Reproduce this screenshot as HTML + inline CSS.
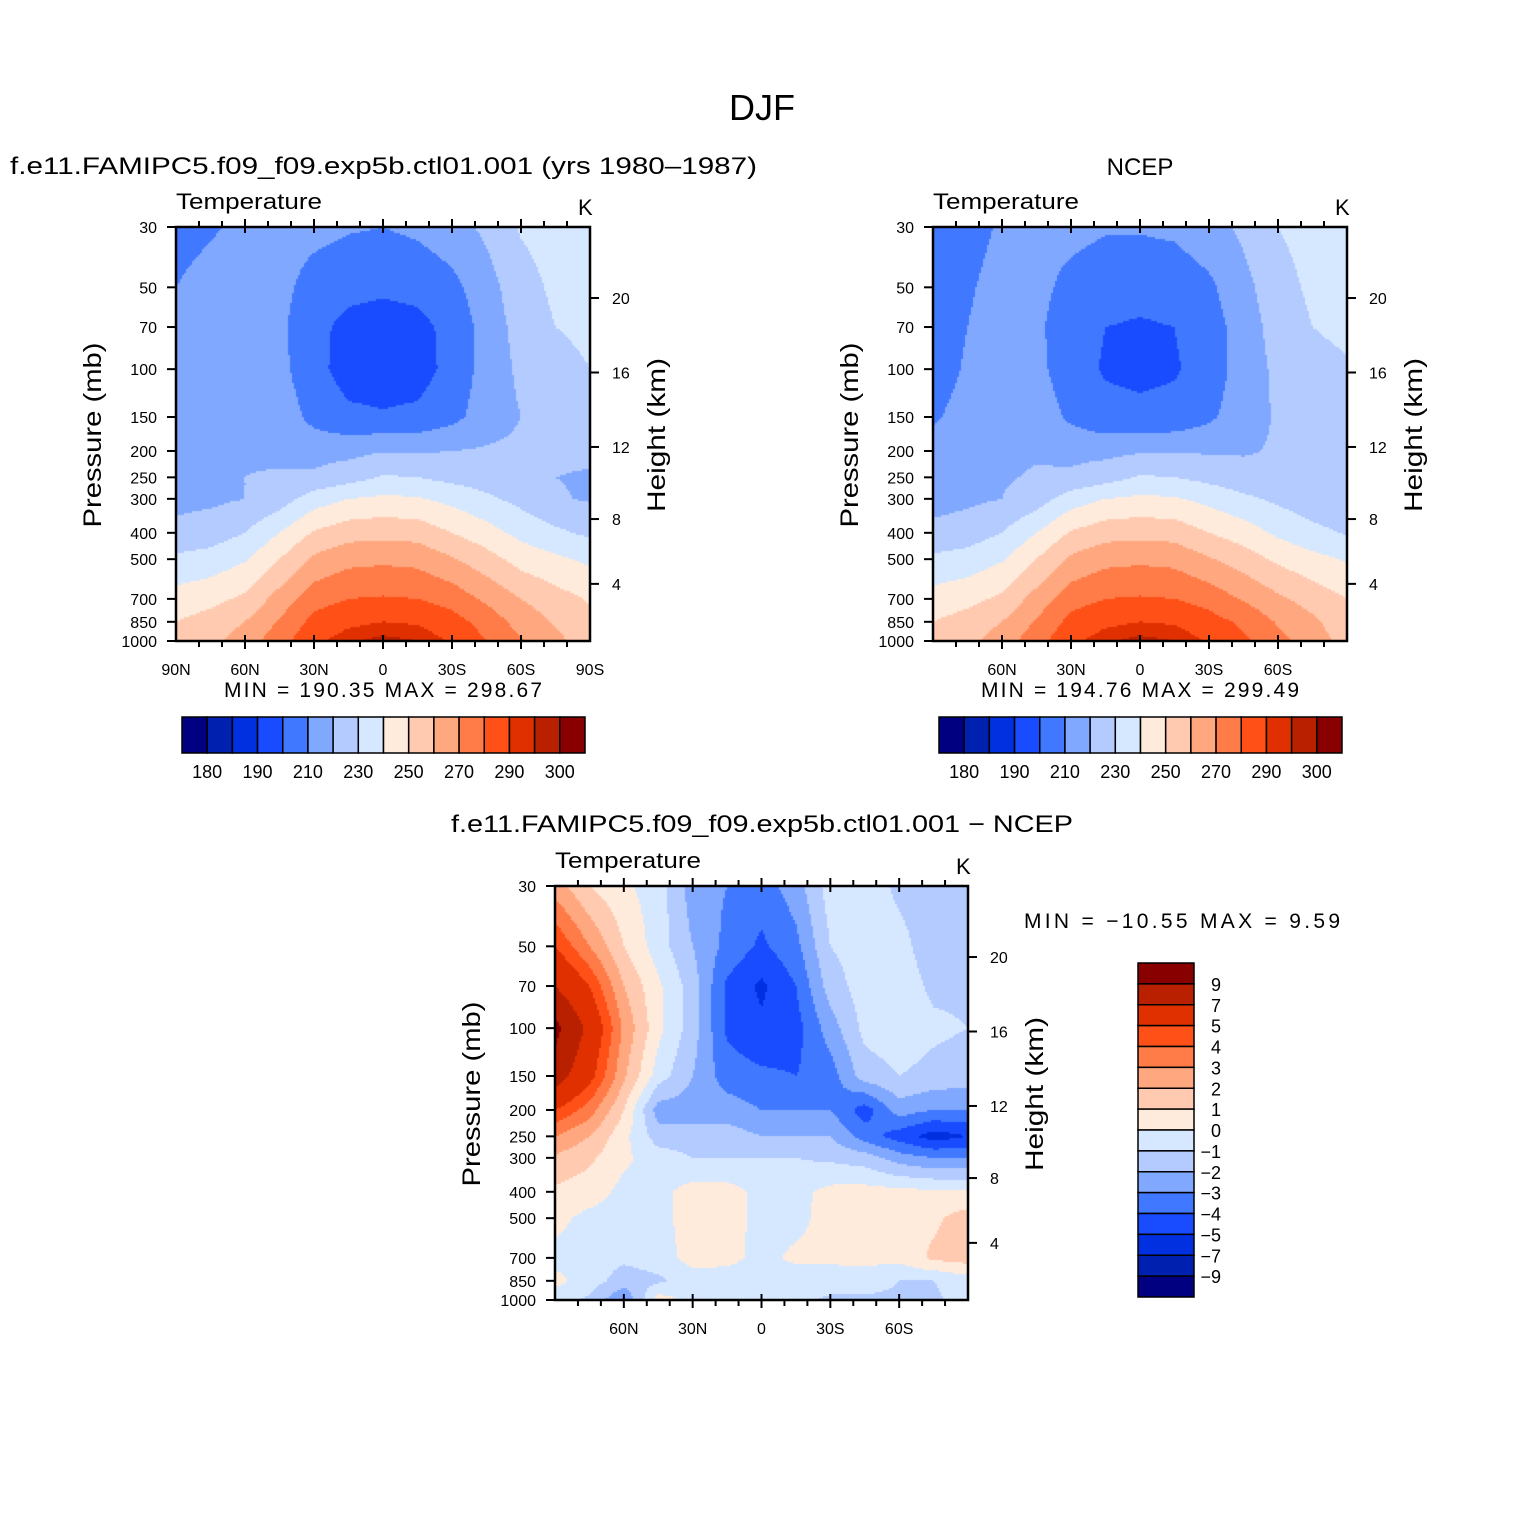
<!DOCTYPE html>
<html><head><meta charset="utf-8">
<style>
html,body{margin:0;padding:0;background:#fff;}
#root{position:relative;width:1524px;height:1524px;overflow:hidden;font-family:"Liberation Sans",sans-serif;}
canvas{position:absolute;}
svg{position:absolute;left:0;top:0;}
text{font-family:"Liberation Sans",sans-serif;fill:#000;}
</style></head>
<body>
<div id="root">
<canvas id="c1" width="414" height="414" style="left:176px;top:227px"></canvas>
<canvas id="c2" width="414" height="414" style="left:933px;top:227px"></canvas>
<canvas id="c3" width="413" height="414" style="left:555px;top:886px"></canvas>
<svg id="s" width="1524" height="1524">
<text x="762" y="120" font-size="36" text-anchor="middle">DJF</text>
<text x="10" y="174" font-size="24" textLength="747" lengthAdjust="spacingAndGlyphs">f.e11.FAMIPC5.f09_f09.exp5b.ctl01.001 (yrs 1980–1987)</text>
<text x="1140" y="175" font-size="24" text-anchor="middle">NCEP</text>
<text x="451" y="832" font-size="24" textLength="622" lengthAdjust="spacingAndGlyphs">f.e11.FAMIPC5.f09_f09.exp5b.ctl01.001 − NCEP</text>
<text x="224" y="697" font-size="21" textLength="318" lengthAdjust="spacing">MIN = 190.35  MAX = 298.67</text>
<text x="981" y="697" font-size="21" textLength="318" lengthAdjust="spacing">MIN = 194.76  MAX = 299.49</text>
<text x="1024" y="928" font-size="21" textLength="316" lengthAdjust="spacing">MIN = −10.55   MAX =    9.59</text>
<g id="axes"></g>
</svg>
</div>
<script>
// ---- data ----
const lats = [90,75,60,45,30,15,0,-15,-30,-45,-60,-75,-90];
const pres = [30,50,70,100,150,200,250,300,400,500,700,850,1000];
const tempLevels = [180,185,190,200,210,220,230,240,250,260,270,280,290,295,300];
const tempLabels = ["180","190","210","230","250","270","290","300"];
const diffLevels = [-9,-7,-5,-4,-3,-2,-1,0,1,2,3,4,5,7,9];
const diffLabels = ["9","7","5","4","3","2","1","0","−1","−2","−3","−4","−5","−7","−9"];
const colors = ["#000080","#0020b0","#0030e0","#1a4cff","#4078ff","#80a8ff","#b3cbff","#d6e8ff","#ffebdc","#ffcab0","#ffa880","#ff7c48","#ff5018","#e03000","#b82000","#880000"];
const modelT = [
[207,209,212,214,213,211,210,212,216,222,231,234,235],
[210,213,215,213,206,203,202,203,207,216,226,232,234],
[212,215,216,212,203,197,195,197,203,214,224,230,232],
[214,216,217,213,203,196,195,196,203,214,222,227,230],
[216,218,219,216,207,202,201,202,207,215,220,224,226],
[217,218,219,218,216,217,219.5,219,220,221,222,222,222],
[217,219,220,221,222,226,231,230,227,225,224,220,219],
[217,218,220,225,235,240,242,241,237,232,227,221,219],
[223,225,230,240,251,256,257,256,250,244,237,232,228],
[232,234,239,250,262,267,268,267,261,254,246,242,238],
[244,247,252,264,276,280,281,280,276,268,260,254,249],
[250,254,260,271,283,288,290,289,284,276,266,259,252],
[252,257,265,276,288,294,297,295,289,280,271,263,254]];
const ncepT = [
[204,207,211,213,213,211,211,212,216,222,230,234,236],
[205,209,213,213,207,204,203,204,208,217,226,232,234],
[206,210,214,212,204,200,199,200,205,215,224,230,232],
[206,211,215,213,204,199,198,199,204,215,222,227,229],
[209,213,217,216,208,203,202,203,208,216,221,224,225],
[213,215,218,219,217,217,219,219,219,219,221,222,222],
[215,217,219,221,222,226,231,230,227,224,222,221,221],
[216,218,220,225,235,240,242,241,237,232,228,224,222],
[223,225,230,240,251,256,257,256,250,245,238,233,229],
[232,234,239,250,262,267,268,267,261,255,248,243,239],
[244,247,252,264,276,280,281,280,276,269,262,256,250],
[250,254,260,271,283,288,290,289,284,278,269,262,254],
[252,257,265,276,288,294,297,295,289,282,273,265,256]];
const diffT = [
[2.5,1,0.2,-0.5,-2.5,-3,-3.5,-2.5,-0.5,-0.5,-1.2,-1.5,-1.5],
[5,3,1,-0.5,-2,-3.3,-4.2,-3.3,-1,-0.5,-0.7,-1.5,-1.5],
[7,5,2,0.2,-1.5,-4.2,-5.2,-4.0,-1.5,-0.5,-0.5,-1.2,-1.2],
[9.6,6.5,2.8,0.3,-1.5,-4.2,-4.8,-4.4,-2.5,-0.7,-0.4,-0.8,-1],
[8,5.5,2.2,-0.5,-2,-3.5,-3.8,-4.0,-3.5,-1.5,-1,-1.3,-1.5],
[5,3.5,1,-2.5,-2.5,-2.5,-3,-3,-3,-4.5,-2.5,-3,-3],
[3,2,0.3,-1.5,-1.5,-1.5,-2,-2,-2,-3.5,-4.5,-5.5,-5],
[1.8,1.2,0.2,-0.5,-1,-1,-1,-1,-1.2,-1.5,-2.5,-3,-3],
[0.8,0.5,-0.3,-0.3,0.4,0.4,-0.3,-0.3,0.3,0.4,0.3,0.2,0.1],
[0.3,-0.3,-0.5,-0.3,0.4,0.4,-0.3,-0.3,0.4,0.5,0.6,0.8,1.5],
[-0.3,-0.5,-0.8,-0.5,0.4,0.3,-0.3,0.2,0.2,0.3,0.3,1.2,1.5],
[0.3,-0.5,-1.5,-1.2,-0.5,-0.5,-0.5,-0.5,-0.5,-0.5,-1,-1,-0.5],
[-0.5,-1.2,-3,0.5,-0.3,-0.5,-0.5,-0.7,-1.2,-1.2,-1.2,-1.2,-0.5]];
const pTicks = [30,50,70,100,150,200,250,300,400,500,700,850,1000];
const hTicks = [4,8,12,16,20];
const latMajor = [90,60,30,0,-30,-60,-90];

// ---- axis functions ----
function yOfP(p, top, h){ return top + h*Math.log(p/30)/Math.log(1000/30); }
function xOfLat(lat, left, w){ return left + w*(90-lat)/180; }
function pOfZ(z){ z*=1000; return z<=11000 ? 1013.25*Math.pow(1-2.25577e-5*z,5.25588) : 226.32*Math.exp(-(z-11000)/6341.6); }
function cls(v, lev){ let i=0; while(i<lev.length && v>=lev[i]) i++; return i; }
const lp = pres.map(p=>Math.log(p));
function sample(grid, lat, p){
  let fx=(90-lat)/15; let i=Math.min(11,Math.floor(fx)); let tx=fx-i;
  let L=Math.log(p); let j=0; while(j<11 && L>lp[j+1]) j++;
  let ty=(L-lp[j])/(lp[j+1]-lp[j]); ty=Math.max(0,Math.min(1,ty));
  const a=grid[j][i],b=grid[j][i+1],c=grid[j+1][i],d=grid[j+1][i+1];
  return (a*(1-tx)+b*tx)*(1-ty)+(c*(1-tx)+d*tx)*ty;
}
function drawField(id, grid, lev){
  const cv=document.getElementById(id), ctx=cv.getContext('2d');
  const W=cv.width,H=cv.height,s=2;
  for(let y=0;y<H;y+=s){
    const p=30*Math.exp((y+s/2)/H*Math.log(1000/30));
    for(let x=0;x<W;x+=s){
      const lat=90-(x+s/2)/W*180;
      ctx.fillStyle=colors[cls(sample(grid,lat,p),lev)];
      ctx.fillRect(x,y,s,s);
    }
  }
}
drawField('c1',modelT,tempLevels);
drawField('c2',ncepT,tempLevels);
drawField('c3',diffT,diffLevels);

// ---- axes ----
const NS='http://www.w3.org/2000/svg';
const G=document.getElementById('axes');
function el(tag,attrs,txt){const e=document.createElementNS(NS,tag);for(const k in attrs)e.setAttribute(k,attrs[k]);if(txt!==undefined)e.textContent=txt;G.appendChild(e);return e;}
function line(x1,y1,x2,y2,w){return el('line',{x1:x1,y1:y1,x2:x2,y2:y2,stroke:'#000','stroke-width':w||2});}
function latLabel(l){return l===0?'0':(Math.abs(l)+(l>0?'N':'S'));}
function panel(name,L,T,W,H,allLat){
  const r=el('rect',{x:L,y:T,width:W,height:H,fill:'none',stroke:'#000','stroke-width':2.5});
  
  
  const t=el('text',{x:L,y:T-18,'font-size':22,textLength:146,lengthAdjust:'spacingAndGlyphs'},'Temperature');
  
  
  const k=el('text',{x:L+W-12,y:T-12,'font-size':22},'K');
  
  
  pTicks.forEach(p=>{const y=yOfP(p,T,H);line(L-9,y,L,y);
    const tx=el('text',{x:L-19,y:y+6,'font-size':16,'text-anchor':'end'},String(p));
    
    });
  hTicks.forEach(z=>{const y=yOfP(pOfZ(z),T,H);line(L+W,y,L+W+9,y);
    const tx=el('text',{x:L+W+22,y:y+6,'font-size':16},String(z));
    
    });
  for(let l=80;l>=-80;l-=10){const x=xOfLat(l,L,W);
    if(l%30===0){line(x,T+H-6,x,T+H+8);line(x,T-8,x,T+6);}
    else{line(x,T+H,x,T+H+6);line(x,T-6,x,T);}}
  latMajor.forEach(l=>{ if(!allLat && Math.abs(l)===90) return;
    const x=xOfLat(l,L,W);
    const tx=el('text',{x:x,y:T+H+34,'font-size':16,'text-anchor':'middle'},latLabel(l));
    
    });
  const yt=el('text',{x:0,y:0,'font-size':25,'text-anchor':'middle',textLength:185,lengthAdjust:'spacingAndGlyphs',transform:`translate(${L-75},${T+208}) rotate(-90)`},'Pressure (mb)');
  
  
  const ht=el('text',{x:0,y:0,'font-size':25,'text-anchor':'middle',textLength:154,lengthAdjust:'spacingAndGlyphs',transform:`translate(${L+W+75},${T+208}) rotate(-90)`},'Height (km)');
  
  
}
panel('model',176,227,414,414,true);
panel('ncep',933,227,414,414,false);
panel('diff',555,886,413,414,false);

function hbar(name,L){
  const bw=(585-182)/16;
  colors.forEach((c,i)=>{const r=el('rect',{x:L+i*bw,y:717,width:bw,height:36,fill:c,stroke:'#000','stroke-width':1.5});
    
    });
  tempLabels.forEach((s,i)=>{const tx=el('text',{x:L+bw*(1+2*i),y:778,'font-size':18,'text-anchor':'middle'},s);
    
    });
}
hbar('model',182);
hbar('ncep',939);

const bh=(1297-963)/16;
colors.slice().reverse().forEach((c,i)=>{const r=el('rect',{x:1138,y:963+i*bh,width:56,height:bh,fill:c,stroke:'#000','stroke-width':1.5});
  
  });
diffLabels.forEach((s,i)=>{const tx=el('text',{x:1221,y:963+bh*(i+1)+7,'font-size':18,'text-anchor':'end'},s);
  
  });
</script>
</body></html>
